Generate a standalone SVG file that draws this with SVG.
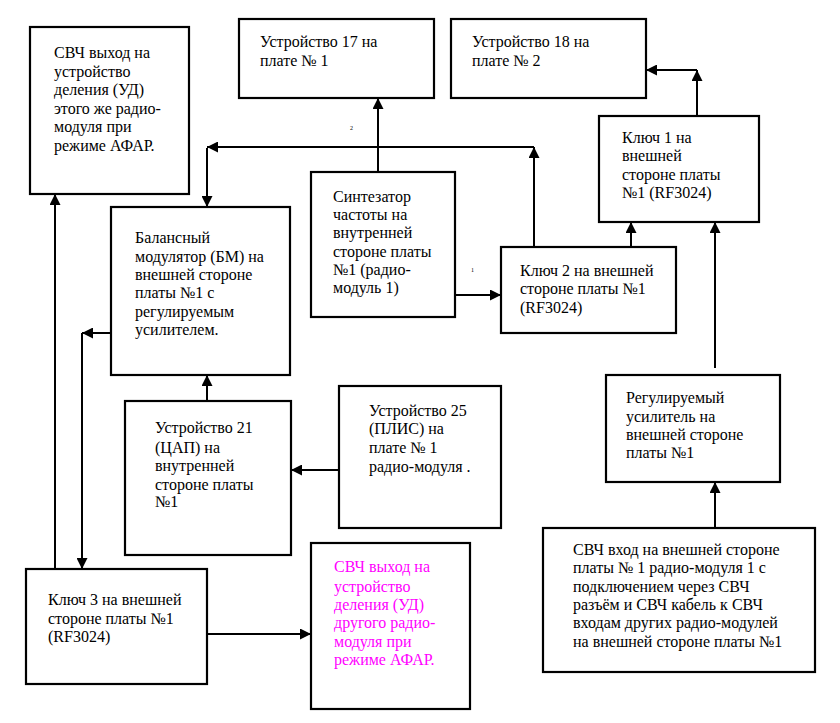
<svg xmlns="http://www.w3.org/2000/svg" width="840" height="723" viewBox="0 0 840 723">
<defs>
<marker id="ah" viewBox="0 0 10 10" refX="10" refY="5" markerWidth="11" markerHeight="11" markerUnits="userSpaceOnUse" orient="auto">
<path d="M0,0 L10,5 L0,10 Z" fill="#000"/>
</marker>
</defs>
<style>
rect{fill:#fff;stroke:#000;stroke-width:2.2}
text{font-family:'Liberation Serif','Times New Roman',serif;font-size:16px;fill:#000}
.mg{fill:#FF00FF}
.c line{stroke:#000;stroke-width:2;fill:none}
.a{marker-end:url(#ah)}
.sm{font-size:6px}
</style>
<rect x="0" y="0" width="840" height="723" style="fill:#fff;stroke:none"/>
<g class="c" id="connectors">
<line class="a" x1="378" y1="172" x2="378" y2="98"/>
<line class="a" x1="534" y1="247" x2="534" y2="147"/>
<line class="a" x1="534" y1="147" x2="207" y2="147"/>
<line class="a" x1="207" y1="148" x2="207" y2="207"/>
<line class="a" x1="455" y1="295" x2="501" y2="295"/>
<line class="a" x1="631" y1="247" x2="631" y2="222"/>
<line class="a" x1="697" y1="116" x2="697" y2="70"/>
<line class="a" x1="697" y1="70" x2="646" y2="70"/>
<line class="a" x1="715" y1="368" x2="715" y2="222"/>
<line class="a" x1="715" y1="528" x2="715" y2="482"/>
<line class="a" x1="111" y1="333" x2="82" y2="333"/>
<line class="a" x1="82" y1="333" x2="82" y2="569"/>
<line class="a" x1="55" y1="569" x2="55" y2="194"/>
<line class="a" x1="207" y1="401" x2="207" y2="375"/>
<line class="a" x1="339" y1="470" x2="291" y2="470"/>
<line class="a" x1="207" y1="634" x2="311" y2="634"/>
<text class="sm" x="350" y="130">2</text>
<text class="sm" x="471" y="272">1</text>
</g>
<g id="n-svch-out-top">
<rect x="30" y="27" width="159" height="167"/>
<text x="54" y="58">СВЧ выход на</text>
<text x="54" y="77">устройство</text>
<text x="54" y="95">деления (УД)</text>
<text x="54" y="114">этого же радио-</text>
<text x="54" y="132">модуля при</text>
<text x="54" y="151">режиме АФАР.</text>
</g>
<g id="n-dev17">
<rect x="239" y="19" width="195" height="79"/>
<text x="260" y="47">Устройство 17 на</text>
<text x="260" y="66">плате № 1</text>
</g>
<g id="n-dev18">
<rect x="451" y="19" width="195" height="79"/>
<text x="472" y="47">Устройство 18 на</text>
<text x="472" y="66">плате № 2</text>
</g>
<g id="n-key1">
<rect x="599" y="116" width="160" height="106"/>
<text x="622" y="143">Ключ 1 на</text>
<text x="622" y="161">внешней</text>
<text x="622" y="180">стороне платы</text>
<text x="622" y="198">№1 (RF3024)</text>
</g>
<g id="n-synth">
<rect x="311" y="172" width="144" height="145"/>
<text x="333" y="202">Синтезатор</text>
<text x="333" y="220">частоты на</text>
<text x="333" y="238">внутренней</text>
<text x="333" y="257">стороне платы</text>
<text x="333" y="275">№1 (радио-</text>
<text x="333" y="293">модуль 1)</text>
</g>
<g id="n-bm">
<rect x="111" y="207" width="179" height="168"/>
<text x="135" y="243">Балансный</text>
<text x="135" y="262">модулятор (БМ) на</text>
<text x="135" y="280">внешней стороне</text>
<text x="135" y="298">платы №1 с</text>
<text x="135" y="317">регулируемым</text>
<text x="135" y="335">усилителем.</text>
</g>
<g id="n-key2">
<rect x="501" y="247" width="175" height="86"/>
<text x="520" y="276">Ключ 2 на внешней</text>
<text x="520" y="294">стороне платы №1</text>
<text x="520" y="313">(RF3024)</text>
</g>
<g id="n-amp">
<rect x="606" y="375" width="174" height="107"/>
<text x="626" y="403">Регулируемый</text>
<text x="626" y="422">усилитель на</text>
<text x="626" y="440">внешней стороне</text>
<text x="626" y="458">платы №1</text>
</g>
<g id="n-dev21">
<rect x="125" y="401" width="166" height="154"/>
<text x="155" y="433">Устройство 21</text>
<text x="155" y="453">(ЦАП) на</text>
<text x="155" y="471">внутренней</text>
<text x="155" y="490">стороне платы</text>
<text x="155" y="507">№1</text>
</g>
<g id="n-dev25">
<rect x="339" y="386" width="162" height="142"/>
<text x="369" y="416">Устройство 25</text>
<text x="369" y="434">(ПЛИС) на</text>
<text x="369" y="453">плате № 1</text>
<text x="369" y="472">радио-модуля .</text>
</g>
<g id="n-svch-in">
<rect x="543" y="528" width="272" height="144"/>
<text x="573" y="555">СВЧ вход на внешней стороне</text>
<text x="573" y="573">платы № 1 радио-модуля 1 с</text>
<text x="573" y="592">подключением через СВЧ</text>
<text x="573" y="610">разъём и СВЧ кабель к СВЧ</text>
<text x="573" y="628">входам других радио-модулей</text>
<text x="573" y="647">на внешней стороне платы №1</text>
</g>
<g id="n-key3">
<rect x="26" y="569" width="181" height="115"/>
<text x="48" y="605">Ключ 3 на внешней</text>
<text x="48" y="624">стороне платы №1</text>
<text x="48" y="642">(RF3024)</text>
</g>
<g id="n-svch-out-other">
<rect x="311" y="543" width="159" height="166"/>
<text class="mg" x="334" y="572">СВЧ выход на</text>
<text class="mg" x="334" y="592">устройство</text>
<text class="mg" x="334" y="610">деления (УД)</text>
<text class="mg" x="334" y="628">другого радио-</text>
<text class="mg" x="334" y="647">модуля при</text>
<text class="mg" x="334" y="665">режиме АФАР.</text>
</g>
</svg>
